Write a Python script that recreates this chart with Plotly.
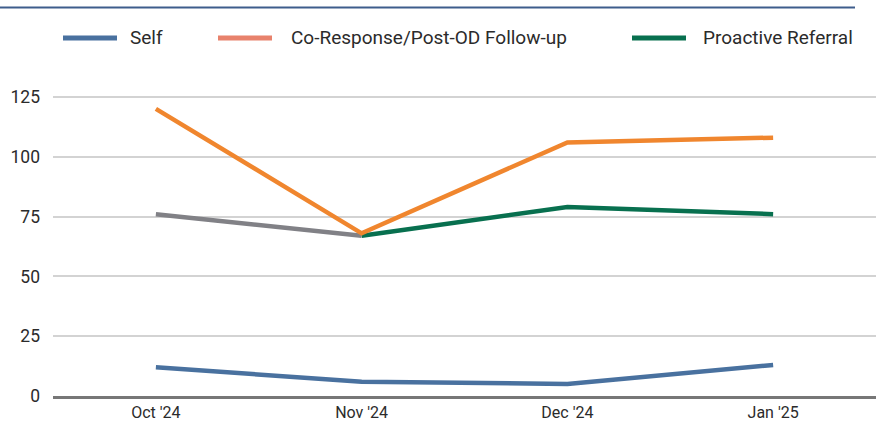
import plotly.graph_objects as go

months = ["Oct '24", "Nov '24", "Dec '24", "Jan '25"]
self_vals = [12, 6, 5, 13]
coresponse_vals = [120, 68, 106, 108]
proactive_vals = [76, 67, 79, 76]
series_names = ["Self", "Co-Response/Post-OD Follow-up", "Proactive Referral"]
y_ticks = [0, 25, 50, 75, 100, 125]

line_colors = ["#49719f", "#f0862e", "#08704f"]
legend_colors = ["#49719f", "#e8826c", "#08704f"]
gray = "#818186"

fig = go.Figure()
# gray early segment of proactive referral
fig.add_trace(go.Scatter(x=months[:2], y=proactive_vals[:2], mode="lines",
                         line=dict(color=gray, width=4.5), showlegend=False, hoverinfo="skip"))
fig.add_trace(go.Scatter(x=months[1:], y=proactive_vals[1:], mode="lines",
                         line=dict(color=line_colors[2], width=4.5), showlegend=False))
fig.add_trace(go.Scatter(x=months, y=coresponse_vals, mode="lines",
                         line=dict(color=line_colors[1], width=4.5), showlegend=False))
fig.add_trace(go.Scatter(x=months, y=self_vals, mode="lines",
                         line=dict(color=line_colors[0], width=4.5), showlegend=False))

PL, PT, PW, PH = 53, 85, 823, 311

# manual legend
leg_x = [63, 218, 632]
leg_text_x = [130, 291, 703]
shapes = [dict(type="line", xref="paper", yref="paper", x0=-PL / PW, x1=(855 - PL) / PW,
               y0=1 + (PT - 7.5) / PH, y1=1 + (PT - 7.5) / PH,
               line=dict(color="#3e5d8c", width=2))]
annotations = []
for name, c, lx, tx in zip(series_names, legend_colors, leg_x, leg_text_x):
    x0 = (lx - PL) / PW
    x1 = (lx + 54 - PL) / PW
    yy = 1 + (PT - 38) / PH
    shapes.append(dict(type="line", xref="paper", yref="paper", x0=x0, x1=x1, y0=yy, y1=yy,
                       line=dict(color=c, width=5)))
    annotations.append(dict(xref="paper", yref="paper", x=(tx - 2 - PL) / PW, y=yy,
                            text=name, showarrow=False, xanchor="left", yanchor="middle",
                            font=dict(family="Roboto, sans-serif", size=19, color="#2b2b2b")))

fig.update_layout(
    width=878, height=433,
    margin=dict(l=PL, r=878 - PL - PW, t=PT, b=433 - PT - PH),
    paper_bgcolor="white", plot_bgcolor="white",
    shapes=shapes, annotations=annotations,
    showlegend=False,
    xaxis=dict(type="category", range=[-0.5, 3.5], showgrid=False,
               showline=True, linecolor="#777777", linewidth=3,
               ticks="", tickfont=dict(family="Roboto, sans-serif",
                                       size=16, color="#2b2b2b")),
    yaxis=dict(range=[0, 130], tickvals=y_ticks, showgrid=True, gridcolor="#d3d3d3",
               gridwidth=1.5, zeroline=False, showline=False, ticks="",
               ticklabelstandoff=12,
               tickfont=dict(family="Roboto, sans-serif", size=17.5, color="#2b2b2b")),
)

fig.write_html("out.html", config={"displayModeBar": False},
               post_script="document.body.style.margin='0';")
